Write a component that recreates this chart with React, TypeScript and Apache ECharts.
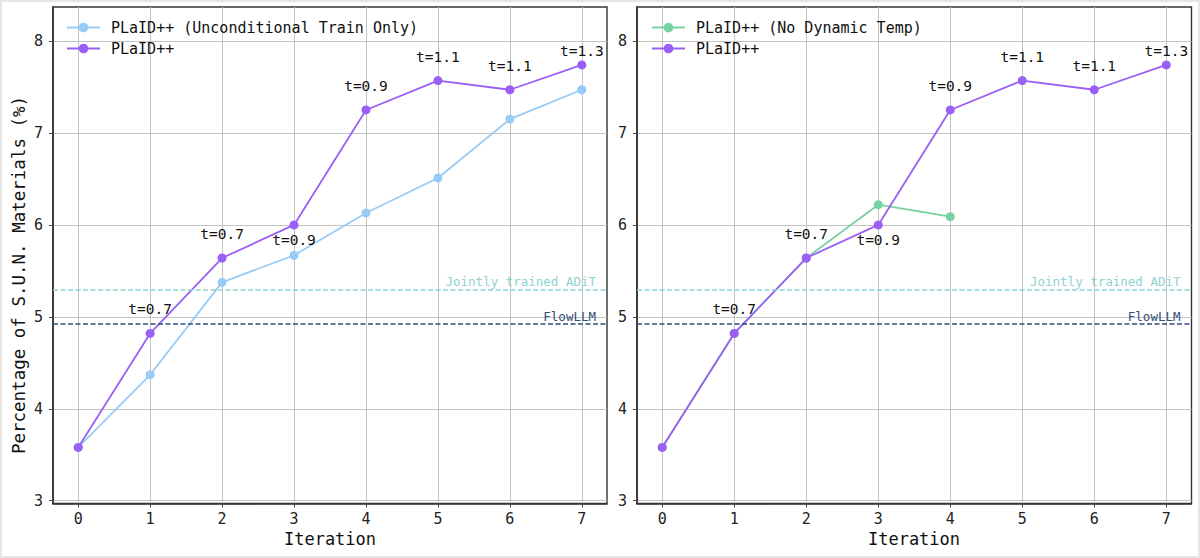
import React, { useEffect, useRef } from "react";
import * as echarts from "echarts";

const iterations = [0, 1, 2, 3, 4, 5, 6, 7];
const yTicks = [3, 4, 5, 6, 7, 8];
const plaid = [3.58, 4.82, 5.64, 6.0, 7.25, 7.57, 7.47, 7.74];
const uncond = [3.58, 4.37, 5.375, 5.67, 6.13, 6.51, 7.15, 7.47];
const noDynIter = [0, 1, 2, 3, 4];
const noDyn = [3.58, 4.82, 5.64, 6.22, 6.09];
const tempLabels = ["", "t=0.7", "t=0.7", "t=0.9", "t=0.9", "t=1.1", "t=1.1", "t=1.3"];
const baselineNames = ["Jointly trained ADiT", "FlowLLM"];
const baselineValues = [5.305, 4.925];

const NAME_PLAID = "PLaID++";
const NAME_UNCOND = "PLaID++ (Unconditional Train Only)";
const NAME_NODYN = "PLaID++ (No Dynamic Temp)";

const FONT = "DejaVu Sans Mono";
const C_PURPLE = "#9a60f5";
const C_BLUE = "#98cbf5";
const C_GREEN = "#78d1a0";
const baselineColors = ["#8fd2cf", "#2f4e78"];
// label vertical offsets (px) per iteration index for temperature annotations
const labelDyDefault = -24;
const labelDyOverride: Record<number, number> = { 3: 15, 7: -14 };

const GRID_TOP = 7;
const GRID_H = 496.5;
const grids = [
  { left: 53, top: GRID_TOP, width: 554, height: GRID_H },
  { left: 637, top: GRID_TOP, width: 554.5, height: GRID_H },
];

function App() {
  const ref = useRef<HTMLDivElement>(null);
  useEffect(() => {
    if (!ref.current) return;
    const chart = echarts.init(ref.current, null, { renderer: "svg" });

    const xAxisFor = (gi: number) => ({
      type: "value",
      gridIndex: gi,
      min: -0.35,
      max: 7.35,
      axisLine: { show: true, onZero: false, lineStyle: { color: "#333", width: 1.6 } },
      axisTick: {
        show: true,
        customValues: iterations,
        length: 4,
        lineStyle: { color: "#444", width: 1 },
      },
      axisLabel: {
        customValues: iterations,
        margin: 8,
        color: "#222",
        fontFamily: FONT,
        fontSize: 15,
      },
      splitLine: { show: true, lineStyle: { color: "#c3c3c3", width: 1 } },
    });
    const yAxisFor = (gi: number) => ({
      type: "value",
      gridIndex: gi,
      min: 2.97,
      max: 8.37,
      axisLine: { show: true, onZero: false, lineStyle: { color: "#333", width: 1.6 } },
      axisTick: {
        show: true,
        customValues: yTicks,
        length: 4,
        lineStyle: { color: "#444", width: 1 },
      },
      axisLabel: {
        customValues: yTicks,
        margin: 10,
        color: "#222",
        fontFamily: FONT,
        fontSize: 15,
      },
      splitLine: { show: true, lineStyle: { color: "#c3c3c3", width: 1 } },
    });

    const markLine = {
      silent: true,
      symbol: "none",
      animation: false,
      data: baselineValues.map((v, i) => ({
        yAxis: v,
        name: baselineNames[i],
        lineStyle: { color: baselineColors[i], type: [5, 2.5], width: 1.5 },
        label: {
          show: true,
          position: "insideEndTop",
          formatter: baselineNames[i],
          color: baselineColors[i],
          fontFamily: FONT,
          fontSize: 12.5,
          distance: [11, 1],
        },
      })),
    };

    const plaidData = plaid.map((v, i) => ({
      value: [iterations[i], v],
      label: {
        show: tempLabels[i] !== "",
        formatter: tempLabels[i],
        position: "inside",
        offset: [0, labelDyOverride[i] ?? labelDyDefault],
        color: "#111",
        fontFamily: FONT,
        fontSize: 14.5,
      },
    }));

    const lineSeries = (name: string, xs: number[], ys: number[] | any[], color: string, gi: number, z: number, extra: any = {}) => ({
      type: "line",
      name,
      xAxisIndex: gi,
      yAxisIndex: gi,
      data: ys.map((v: any, i: number) => (typeof v === "number" ? [xs[i], v] : v)),
      symbol: "circle",
      symbolSize: 9,
      showSymbol: true,
      color,
      lineStyle: { color, width: 1.8 },
      itemStyle: { color },
      z,
      ...extra,
    });

    const legendBase = {
      orient: "vertical",
      top: 15,
      itemWidth: 33,
      itemHeight: 12,
      itemGap: 6,
      textStyle: { fontFamily: FONT, fontSize: 15, color: "#111", padding: [0, 0, 0, 6] },
    };

    chart.setOption({
      animation: false,
      backgroundColor: "#ffffff",
      grid: grids.map((g) => ({ ...g, show: true, borderColor: "#333", borderWidth: 1.4, backgroundColor: "transparent" })),
      xAxis: [xAxisFor(0), xAxisFor(1)],
      yAxis: [yAxisFor(0), yAxisFor(1)],
      legend: [
        { ...legendBase, left: 61, data: [NAME_UNCOND, NAME_PLAID] },
        { ...legendBase, left: 646, data: [NAME_NODYN, NAME_PLAID] },
      ],
      series: [
        lineSeries(NAME_UNCOND, iterations, uncond, C_BLUE, 0, 3, { markLine }),
        lineSeries(NAME_PLAID, iterations, plaidData, C_PURPLE, 0, 4),
        lineSeries(NAME_NODYN, noDynIter, noDyn, C_GREEN, 1, 3, { markLine }),
        lineSeries(NAME_PLAID, iterations, plaidData, C_PURPLE, 1, 4),
      ],
      graphic: [
        {
          type: "text",
          x: 19,
          y: 275,
          rotation: Math.PI / 2,
          style: {
            text: "Percentage of S.U.N. Materials (%)",
            fontFamily: FONT,
            fontSize: 17.5,
            fill: "#111",
            textAlign: "center",
            textVerticalAlign: "middle",
          },
        },
        {
          type: "text",
          x: 330,
          y: 539,
          style: { text: "Iteration", fontFamily: FONT, fontSize: 17, fill: "#111", textAlign: "center", textVerticalAlign: "middle" },
        },
        {
          type: "text",
          x: 914,
          y: 539,
          style: { text: "Iteration", fontFamily: FONT, fontSize: 17, fill: "#111", textAlign: "center", textVerticalAlign: "middle" },
        },
        {
          type: "rect",
          shape: { x: 1, y: 1, width: 1198, height: 556 },
          style: { fill: "none", stroke: "#e6e6e6", lineWidth: 2 },
          silent: true,
        },
      ],
    });
    return () => chart.dispose();
  }, []);
  return (
    <div
      ref={ref}
      style={{ position: "fixed", left: 0, top: 0, width: 1200, height: 558, background: "#fff" }}
    />
  );
}

export default App;
